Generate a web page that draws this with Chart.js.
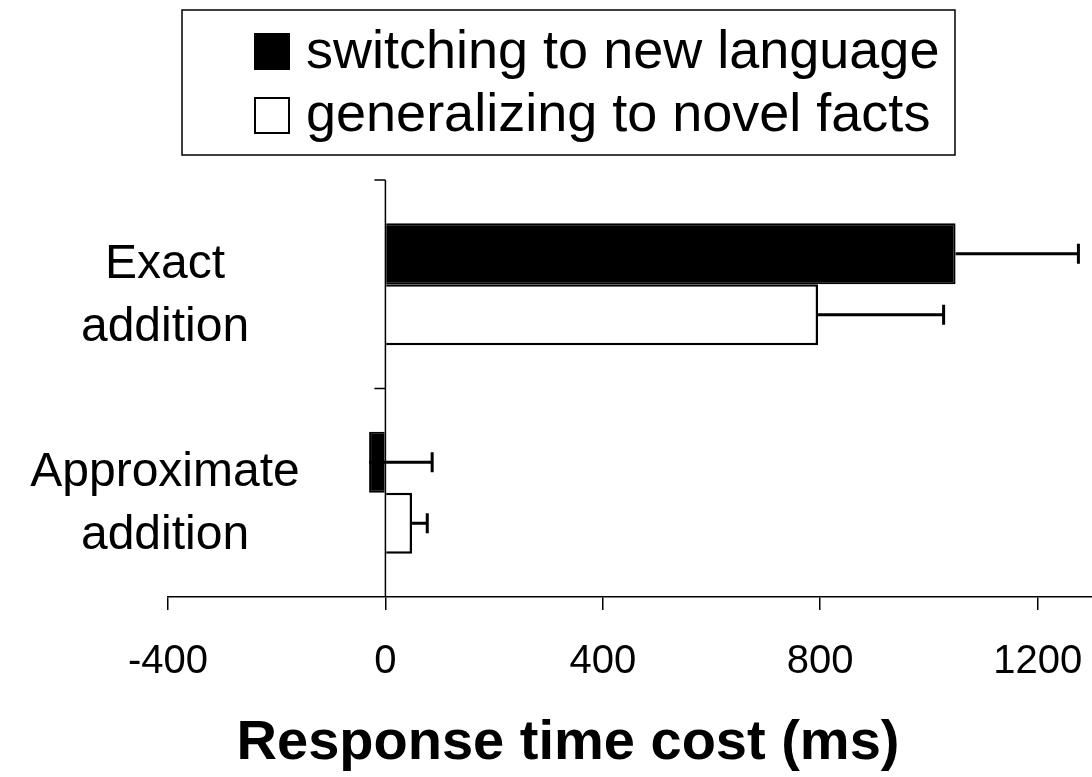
<!DOCTYPE html>
<html>
<head>
<meta charset="utf-8">
<script src="https://cdn.jsdelivr.net/npm/chart.js@4.4.1/dist/chart.umd.min.js"></script>
<style>
  html, body { margin: 0; padding: 0; background: #fff; }
  #wrap { width: 1092px; height: 777px; position: relative; }
</style>
</head>
<body>
<div id="wrap"><canvas id="rtChart"></canvas></div>
<script>
// data
const categories = [['Exact', 'addition'], ['Approximate', 'addition']];
const seriesNames = ['switching to new language', 'generalizing to novel facts'];
const switchingValues = [1049, -30];
const switchingErrors = [226, 116];
const generalizingValues = [796, 49];
const generalizingErrors = [231, 28];
const xTickValues = [-400, 0, 400, 800, 1200];
const xMin = -400;
const xMax = 1300;
const axisTitle = 'Response time cost (ms)';

const FONT = '"Liberation Sans", Arial, Helvetica, sans-serif';

// error bars, zero line, category labels, legend box and axis title
const extrasPlugin = {
  id: 'extras',
  afterDatasetsDraw(chart) {
    const ctx = chart.ctx;
    const xs = chart.scales.x;
    const ys = chart.scales.y;
    const area = chart.chartArea;
    const errs = [switchingErrors, generalizingErrors];

    ctx.save();
    ctx.strokeStyle = '#000';

    // error bars (one-sided, to the right)
    chart.data.datasets.forEach((ds, di) => {
      const meta = chart.getDatasetMeta(di);
      meta.data.forEach((bar, i) => {
        const x0 = bar.x;
        const x1 = xs.getPixelForValue(ds.data[i] + errs[di][i]);
        ctx.lineWidth = 3;
        ctx.beginPath();
        ctx.moveTo(x0, bar.y);
        ctx.lineTo(x1, bar.y);
        ctx.moveTo(x1, bar.y - 10);
        ctx.lineTo(x1, bar.y + 10);
        ctx.stroke();
      });
    });

    // vertical axis at zero with ticks between categories
    const x0 = xs.getPixelForValue(0);
    ctx.lineWidth = 1.5;
    ctx.beginPath();
    ctx.moveTo(x0, area.top);
    ctx.lineTo(x0, area.bottom);
    const bounds = [area.top, (ys.getPixelForValue(0) + ys.getPixelForValue(1)) / 2];
    bounds.forEach(y => {
      ctx.moveTo(x0 - 11, y);
      ctx.lineTo(x0, y);
    });
    ctx.stroke();

    // category labels
    ctx.fillStyle = '#000';
    ctx.font = '48px ' + FONT;
    ctx.textAlign = 'center';
    ctx.textBaseline = 'middle';
    categories.forEach((lines, i) => {
      const cy = ys.getPixelForValue(i) + 12;
      lines.forEach((t, k) => {
        ctx.fillText(t, 165, cy + (k - 0.5) * 63);
      });
    });

    // axis title
    ctx.font = 'bold 56px ' + FONT;
    ctx.fillText(axisTitle, 568, 744);

    // legend
    ctx.lineWidth = 1.5;
    ctx.strokeRect(182, 10, 773, 145);
    ctx.font = '54px ' + FONT;
    ctx.textAlign = 'left';
    ctx.textBaseline = 'alphabetic';
    chart.data.datasets.forEach((ds, di) => {
      const top = di === 0 ? 33 : 97;
      ctx.fillStyle = ds.backgroundColor;
      ctx.fillRect(254, top, 36, 37);
      ctx.lineWidth = 2;
      ctx.strokeRect(255, top + 1, 34, 35);
      ctx.fillStyle = '#000';
      ctx.fillText(ds.label, 306, di === 0 ? 68 : 131);
    });
    ctx.restore();
  }
};

const ctx = document.getElementById('rtChart').getContext('2d');
const rtChart = new Chart(ctx, {
  type: 'bar',
  data: {
    labels: categories,
    datasets: [{
      label: seriesNames[0],
      data: switchingValues,
      backgroundColor: '#000',
      borderColor: '#000',
      borderWidth: 2,
      barPercentage: 1,
      categoryPercentage: 0.585
    }, {
      label: seriesNames[1],
      data: generalizingValues,
      backgroundColor: '#fff',
      borderColor: '#000',
      borderWidth: 2.5,
      barPercentage: 1,
      categoryPercentage: 0.585
    }]
  },
  options: {
    indexAxis: 'y',
    responsive: true,
    maintainAspectRatio: false,
    animation: false,
    layout: { padding: { top: 180, left: 168, right: 0, bottom: 0 } },
    plugins: {
      legend: { display: false },
      tooltip: { enabled: false }
    },
    scales: {
      x: {
        type: 'linear',
        min: xMin,
        max: xMax,
        afterBuildTicks: s => { s.ticks = xTickValues.map(v => ({ value: v })); },
        afterFit: s => {
          s.height = 180;
          s.paddingLeft = 0;
          s.paddingRight = 0;
        },
        grid: {
          display: true,
          drawOnChartArea: false,
          drawTicks: true,
          tickLength: 13,
          color: '#000',
          lineWidth: 1.5
        },
        border: { display: true, color: '#000', width: 1.5 },
        ticks: {
          color: '#000',
          font: { family: FONT, size: 40 },
          padding: 28,
          maxRotation: 0,
          callback: v => String(v)
        }
      },
      y: {
        display: false
      }
    }
  },
  plugins: [extrasPlugin]
});
</script>
</body>
</html>
